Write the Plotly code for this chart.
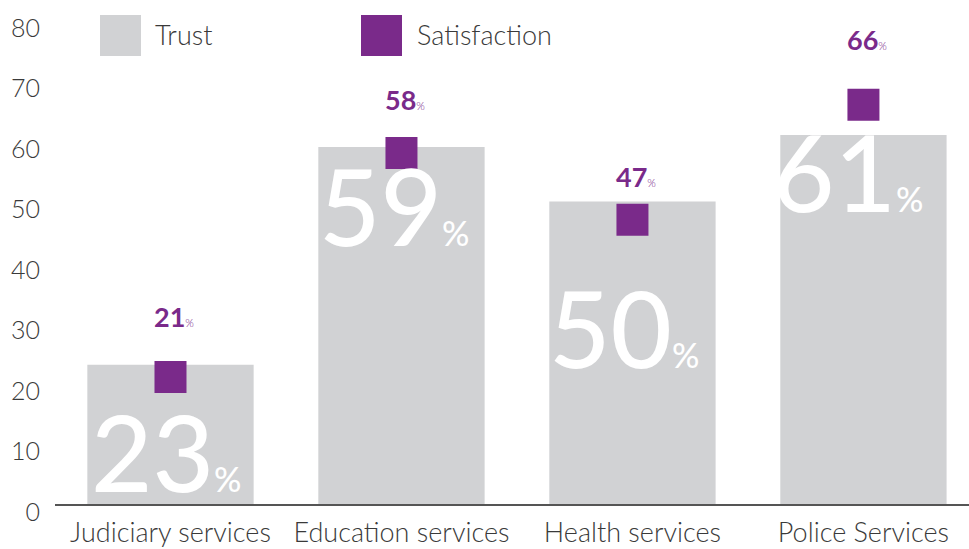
import plotly.graph_objects as go

# Survey results by public service
categories = ["Judiciary services", "Education services", "Health services", "Police Services"]
trust = [23, 59, 50, 61]
satisfaction = [21, 58, 47, 66]
y_ticks = [0, 10, 20, 30, 40, 50, 60, 70, 80]

GREY = "#d1d2d4"
PURPLE = "#7a2a8a"
TEXT = "#3a3a3a"
FONT = "Lato"

W, H = 969, 549
ML, MR, MT, MB = 55, 0, 20, 45

# pixel offsets for value labels (styling only)
big_label_drop = [86, 58, 125, 36]      # trust label centre below bar top
big_label_dx = [-4, -7, -8, -15]
sat_label_rise = [60, 54, 43, 65]       # satisfaction label centre above marker

fig = go.Figure()

fig.add_trace(go.Bar(
    x=categories, y=trust, name="Trust",
    marker=dict(color=GREY, line=dict(width=0)),
    width=0.72, showlegend=False, hoverinfo="skip",
))

fig.add_trace(go.Scatter(
    x=categories, y=satisfaction, name="Satisfaction", mode="markers",
    marker=dict(symbol="square", size=32, color=PURPLE, line=dict(width=0)),
    showlegend=False, hoverinfo="skip",
))

annotations = []
for i, (c, t, s) in enumerate(zip(categories, trust, satisfaction)):
    annotations.append(dict(
        x=c, y=t, xref="x", yref="y",
        text=f"{t}<span style='font-size:34px'>%</span>",
        showarrow=False, yanchor="middle", xanchor="center",
        yshift=-big_label_drop[i], xshift=big_label_dx[i],
        font=dict(family=FONT, size=106, color="white", weight=500),
    ))
    annotations.append(dict(
        x=c, y=s, xref="x", yref="y",
        text=f"<b>{s}</b><span style='font-size:11px'>%</span>",
        showarrow=False, yanchor="middle", xanchor="center",
        yshift=sat_label_rise[i], xshift=4,
        font=dict(family=FONT, size=27, color=PURPLE),
    ))

# legend drawn as swatches with labels
pw = W - ML - MR
ph = H - MT - MB


def px_x(p):
    return (p - ML) / pw


def px_y(p):
    return (H - MB - p) / ph


shapes = [
    dict(type="rect", xref="paper", yref="paper", x0=px_x(100), x1=px_x(141),
         y0=px_y(56), y1=px_y(15), fillcolor=GREY, line=dict(width=0)),
    dict(type="rect", xref="paper", yref="paper", x0=px_x(361), x1=px_x(402),
         y0=px_y(56), y1=px_y(15), fillcolor=PURPLE, line=dict(width=0)),
]
annotations += [
    dict(x=px_x(153), y=px_y(35), xref="paper", yref="paper", text="Trust",
         showarrow=False, xanchor="left", yanchor="middle",
         font=dict(family=FONT, size=27, color=TEXT, weight=300)),
    dict(x=px_x(415), y=px_y(35), xref="paper", yref="paper", text="Satisfaction",
         showarrow=False, xanchor="left", yanchor="middle",
         font=dict(family=FONT, size=27, color=TEXT, weight=300)),
]

fig.update_layout(
    width=W, height=H,
    margin=dict(l=ML, r=MR, t=MT, b=MB, pad=0, autoexpand=False),
    paper_bgcolor="white", plot_bgcolor="white",
    font=dict(family=FONT, size=25, color=TEXT, weight=300),
    shapes=shapes, annotations=annotations,
    bargap=0.28,
)
fig.update_xaxes(
    range=[-0.5, 3.457], showline=True, linecolor="#555555", linewidth=1.5,
    showgrid=False, ticks="", zeroline=False, ticklabelstandoff=4,
    automargin=False,
    tickfont=dict(family=FONT, size=27, color=TEXT, weight=300),
)
fig.update_yaxes(
    range=[0, 80], tickvals=y_ticks, showgrid=False, zeroline=False,
    showline=False, ticks="", ticklabelstandoff=14, ticklabelshift=8,
    ticklabeloverflow="allow", automargin=False,
    tickfont=dict(family=FONT, size=25, color=TEXT, weight=300),
)

fig.write_html("out.html")
